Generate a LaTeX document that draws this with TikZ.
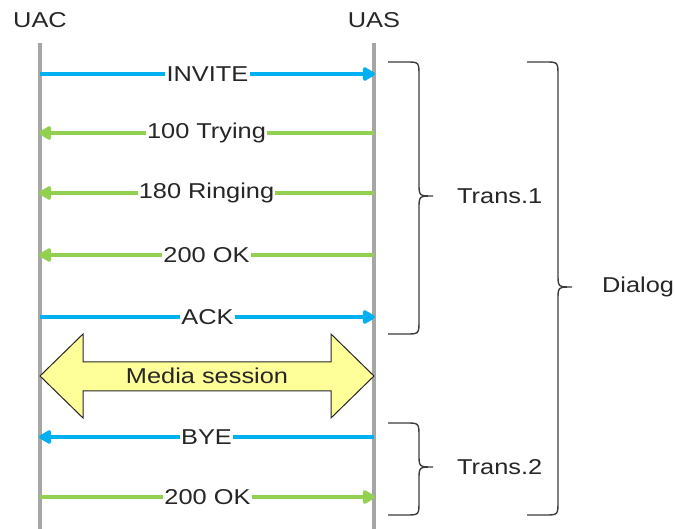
\documentclass[tikz,border=0pt]{standalone}
\usepackage{fontspec}
\setmainfont{Liberation Sans}
\usetikzlibrary{arrows.meta}

\definecolor{reqblue}{HTML}{00B0F0}
\definecolor{respgreen}{HTML}{92D050}
\definecolor{lifegray}{HTML}{A6A6A6}
\definecolor{mediayellow}{HTML}{FFFF99}
\definecolor{inkgray}{HTML}{262626}

\tikzset{
  lifeline/.style={lifegray, line width=4.5pt},
  req/.style={reqblue, line width=3.5pt, -{Triangle[length=14pt,width=15pt,round]}},
  resp/.style={respgreen, line width=3.5pt, -{Triangle[length=14pt,width=15pt,round]}},
  msg/.style={fill=white, text=inkgray, inner xsep=1pt, inner ysep=0pt, xscale=1.18,
    font=\fontsize{21.5}{24}\selectfont},
  party/.style={text=inkgray, xscale=1.18, font=\fontsize{21.5}{24}\selectfont},
  media/.style={draw=inkgray, fill=mediayellow, line width=1pt, line join=miter},
  bracepen/.style={draw=inkgray!90, line width=1.4pt},
  grouplabel/.style={anchor=west, text=inkgray, xscale=1.18, font=\fontsize{21.5}{24}\selectfont}
}

% brace: x of the ends, top y, bottom y, y of the tip
\newcommand{\groupbrace}[4]{%
  \draw[bracepen] (#1,#2) -- (#1+18,#2) .. controls (#1+31,#2) .. (#1+31,#2+14)
    -- (#1+31,#4-13) .. controls (#1+31,#4) .. (#1+45,#4)
    .. controls (#1+31,#4) .. (#1+31,#4+13)
    -- (#1+31,#3-14) .. controls (#1+31,#3) .. (#1+18,#3) -- (#1,#3);}

\begin{document}
\begin{tikzpicture}[x=1pt,y=-1pt]
  \useasboundingbox (0,0) rectangle (675,529);

  % parties and lifelines
  \node[party] (uac) at (40,20) {UAC};
  \node[party] (uas) at (374,20) {UAS};
  \coordinate (uactop) at (40,43);
  \coordinate (uastop) at (374,43);
  \coordinate (uacbot) at (40,529);
  \coordinate (uasbot) at (374,529);
  \draw[lifeline] (uactop) -- (uacbot);
  \draw[lifeline] (uastop) -- (uasbot);

  % message rows
  \coordinate (a1) at (40,74);   \coordinate (b1) at (375,74);
  \coordinate (a2) at (39,133);  \coordinate (b2) at (374,133);
  \coordinate (a3) at (39,193);  \coordinate (b3) at (374,193);
  \coordinate (a4) at (39,255);  \coordinate (b4) at (374,255);
  \coordinate (a5) at (40,317);  \coordinate (b5) at (375,317);
  \coordinate (a6) at (39,437);  \coordinate (b6) at (374,437);
  \coordinate (a7) at (40,497);  \coordinate (b7) at (375,497);

  \draw[req] (a1) -- node[msg] (invite) {INVITE} (b1);
  \draw[resp] (b2) -- node[msg] (trying) {100 Trying} (a2);
  \draw[resp] (b3) -- node[msg] (ringing) {180 Ringing} (a3);
  \draw[resp] (b4) -- node[msg] (okinvite) {200 OK} (a4);
  \draw[req] (a5) -- node[msg] (ack) {ACK} (b5);
  \draw[req] (b6) -- node[msg] (bye) {BYE} (a6);
  \draw[resp] (a7) -- node[msg] (okbye) {200 OK} (b7);

  % media session
  \draw[media] (40,376) -- (83,334) -- (83,362) -- (331,362) -- (331,334) -- (374,376)
    -- (331,418) -- (331,391) -- (83,391) -- (83,418) -- cycle;
  \node[msg, fill=none] (session) at (207,376) {Media session};

  % transactions and dialog
  \groupbrace{388}{62}{334}{196}
  \groupbrace{388}{423}{515}{467}
  \groupbrace{527}{62}{515}{287}
  \node[grouplabel] (trans1) at (453,196) {Trans.1};
  \node[grouplabel] (trans2) at (453,467) {Trans.2};
  \node[grouplabel] (dialog) at (598,287) {Dialog};
\end{tikzpicture}
\end{document}
